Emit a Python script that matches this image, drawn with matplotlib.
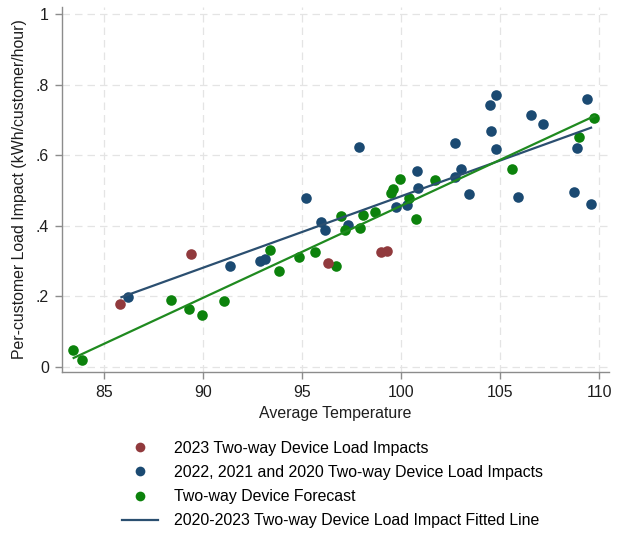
import matplotlib
matplotlib.use("Agg")
import matplotlib.pyplot as plt
from matplotlib.lines import Line2D

plt.rcParams['font.family'] = ['Liberation Sans', 'DejaVu Sans']

# 2023 two-way device load impacts
temp_2023 = [85.84, 89.39, 96.32, 98.98, 99.30]
load_2023 = [0.179, 0.321, 0.296, 0.326, 0.330]

# 2022, 2021 and 2020 two-way device load impacts
temp_past = [86.24, 91.37, 92.90, 93.13, 95.20, 95.98, 96.19, 97.34, 97.87,
             99.74, 100.33, 100.82, 100.86, 102.71, 102.75, 103.01, 103.45,
             104.47, 104.53, 104.78, 104.81, 105.88, 106.56, 107.19, 108.74,
             108.90, 109.40, 109.59]
load_past = [0.198, 0.287, 0.301, 0.307, 0.479, 0.412, 0.389, 0.401, 0.624,
             0.454, 0.460, 0.555, 0.508, 0.538, 0.634, 0.562, 0.490,
             0.743, 0.670, 0.771, 0.619, 0.483, 0.714, 0.688, 0.497,
             0.621, 0.760, 0.462]

# two-way device forecast
temp_fc = [83.45, 83.93, 88.42, 89.33, 89.98, 91.06, 93.37, 93.84, 94.84,
           95.65, 96.71, 96.97, 97.16, 97.94, 98.10, 98.69, 99.52, 99.58,
           99.93, 100.39, 100.75, 101.70, 105.59, 109.00, 109.76]
load_fc = [0.048, 0.019, 0.189, 0.164, 0.148, 0.186, 0.332, 0.272, 0.311,
           0.325, 0.287, 0.427, 0.389, 0.394, 0.430, 0.439, 0.493, 0.503,
           0.534, 0.479, 0.418, 0.530, 0.562, 0.653, 0.705]

# fitted lines (end points)
fit_temp = [85.9, 109.59]
fit_load = [0.198, 0.678]
fc_line_temp = [83.49, 109.76]
fc_line_load = [0.026, 0.711]

col_red = "#913a3d"
col_blue = "#1b4a72"
col_green = "#0c820c"
col_fit = "#2b4f70"
col_fcline = "#1f8a1f"

fs = 11.4

fig = plt.figure(figsize=(6.26, 5.33), dpi=100)
ax = fig.add_axes([0.099, 0.302, 0.874, 0.685])

ax.plot(fit_temp, fit_load, color=col_fit, lw=1.6, zorder=3)
ax.plot(fc_line_temp, fc_line_load, color=col_fcline, lw=1.6, zorder=3)
ax.scatter(temp_past, load_past, s=58, color=col_blue, zorder=2, linewidths=0)
ax.scatter(temp_fc, load_fc, s=58, color=col_green, zorder=2, linewidths=0)
ax.scatter(temp_2023, load_2023, s=58, color=col_red, zorder=2, linewidths=0)

ax.set_xlim(82.9, 110.5)
ax.set_ylim(-0.014, 1.02)
ax.set_xticks([85, 90, 95, 100, 105, 110])
ax.set_yticks([0, 0.2, 0.4, 0.6, 0.8, 1.0])
ax.set_yticklabels(["0", ".2", ".4", ".6", ".8", "1"])
ax.grid(True, color="#e4e4e4", linestyle=(0, (6, 4)), lw=0.9)
ax.set_axisbelow(True)

for side in ("top", "right"):
    ax.spines[side].set_visible(False)
for side in ("left", "bottom"):
    ax.spines[side].set_color("#8c8c8c")
    ax.spines[side].set_linewidth(1.0)
ax.tick_params(colors="#8c8c8c", labelcolor="#1e1e1e", labelsize=fs,
               length=5, width=1.0, pad=4.5)

ax.set_xlabel("Average Temperature", fontsize=fs, color="#1e1e1e", labelpad=4)
ax.set_ylabel("Per-customer Load Impact (kWh/customer/hour)", fontsize=fs,
              color="#1e1e1e", labelpad=6)

handles = [
    Line2D([], [], ls="none", marker="o", ms=7, color=col_red, mec="none"),
    Line2D([], [], ls="none", marker="o", ms=7, color=col_blue, mec="none"),
    Line2D([], [], ls="none", marker="o", ms=7, color=col_green, mec="none"),
    Line2D([], [], color=col_fit, lw=1.6),
]
labels = [
    "2023 Two-way Device Load Impacts",
    "2022, 2021 and 2020 Two-way Device Load Impacts",
    "Two-way Device Forecast",
    "2020-2023 Two-way Device Load Impact Fitted Line",
]
fig.legend(handles, labels, loc="upper left", bbox_to_anchor=(0.195, 0.173),
           frameon=False, fontsize=fs, handlelength=2.3, handletextpad=0.95,
           labelspacing=0.58, borderaxespad=0, borderpad=0)

fig.savefig("out.png", dpi=100)
